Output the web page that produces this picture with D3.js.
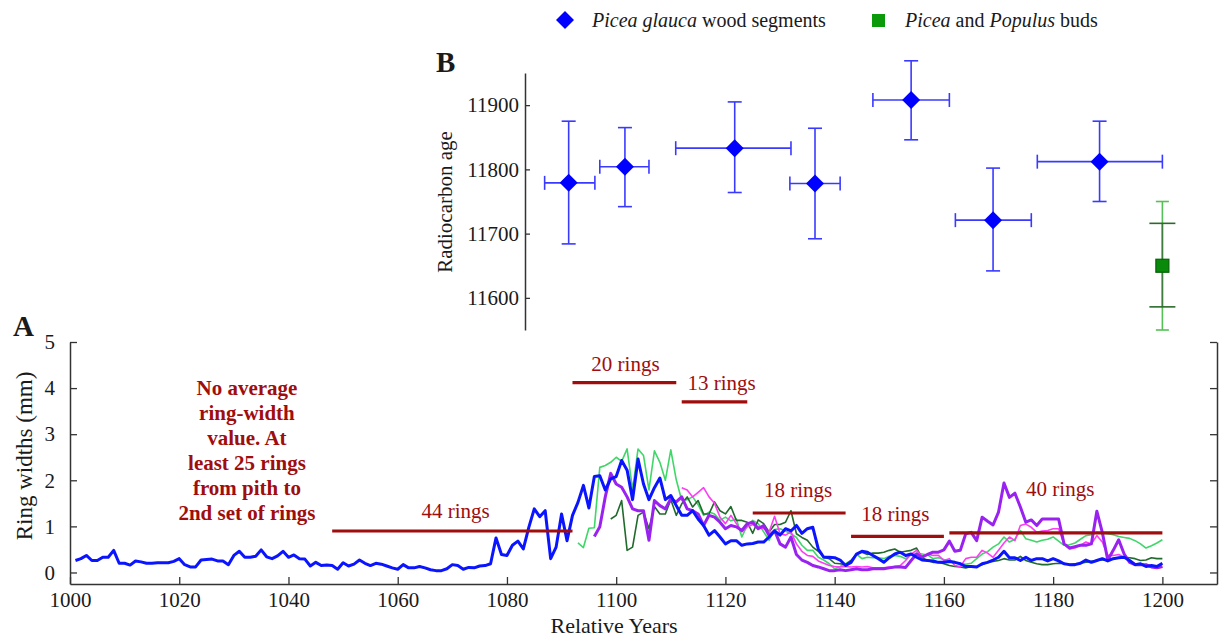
<!DOCTYPE html>
<html><head><meta charset="utf-8">
<script src="https://cdn.jsdelivr.net/npm/d3@7"></script>
<style>
body{margin:0;background:#fff}
svg{display:block}
svg text{font-family:"Liberation Serif","Times New Roman",serif !important}
</style>
</head><body>
<svg id="c" width="1224" height="637"></svg>
<script>
// ---------- Panel A data (ring widths, mm) ----------
const blueStart = 1001;
const blueValues = [0.26,0.3,0.37,0.26,0.26,0.33,0.33,0.48,0.2,0.2,
0.16,0.25,0.23,0.2,0.2,0.21,0.21,0.21,0.24,0.3,
0.17,0.12,0.12,0.27,0.28,0.29,0.25,0.25,0.17,0.37,
0.46,0.33,0.33,0.35,0.49,0.34,0.3,0.36,0.46,0.33,
0.38,0.3,0.29,0.14,0.22,0.15,0.16,0.15,0.07,0.21,
0.14,0.18,0.27,0.2,0.15,0.2,0.18,0.14,0.1,0.07,
0.17,0.1,0.1,0.13,0.1,0.06,0.04,0.04,0.08,0.17,
0.15,0.07,0.11,0.1,0.14,0.15,0.19,0.75,0.39,0.37,
0.59,0.68,0.51,0.98,1.38,1.21,1.34,0.3,0.55,1.27,
0.69,1.24,1.52,1.89,1.4,2.08,2.1,1.79,2.03,2.08,
2.43,2.22,1.58,2.46,1.92,1.58,1.84,2.05,1.58,1.67,
1.45,1.24,1.24,1.34,1.16,1.02,0.81,0.91,0.77,0.62,
0.69,0.69,0.59,0.62,0.63,0.66,0.66,0.77,0.9,0.81,
0.95,0.9,1.02,0.85,0.95,0.98,0.51,0.33,0.33,0.32,
0.27,0.15,0.22,0.4,0.46,0.44,0.37,0.3,0.22,0.32,
0.4,0.44,0.37,0.4,0.33,0.27,0.26,0.25,0.22,0.22,
0.24,0.22,0.19,0.13,0.13,0.12,0.19,0.22,0.27,0.33,
0.46,0.32,0.32,0.26,0.33,0.26,0.3,0.3,0.25,0.3,
0.25,0.19,0.17,0.17,0.2,0.27,0.22,0.26,0.3,0.25,
0.3,0.32,0.33,0.26,0.17,0.19,0.13,0.15,0.13,0.2];

const lightGreenStart = 1093;
const lightGreenValues = [0.64,0.54,0.96,0.97,2.28,2.32,2.39,2.5,2.41,2.68,
1.79,2.68,2.54,1.79,2.64,2.39,2.0,2.66,2.01,1.56,
1.58,1.64,1.47,1.24,1.31,1.27,1.13,1.2,1.12,1.16,
0.77,1.02,1.13,1.06,0.88,0.7,0.93,0.95,0.9,0.84,
0.76,0.59,0.48,0.48,0.33,0.27,0.19,0.08,0.13,0.19,
0.26,0.4,0.3,0.33,0.32,0.32,0.3,0.35,0.37,0.35,
0.3,0.38,0.42,0.4,0.38,0.3,0.32,0.28,0.26,0.22,
0.2,0.18,0.2,0.3,0.4,0.45,0.55,0.62,0.77,0.66,
0.72,0.91,0.73,0.7,0.66,0.7,0.72,0.77,0.68,0.59,
0.6,0.64,0.72,0.8,0.82,0.87,0.85,0.84,0.82,0.78,
0.76,0.74,0.69,0.62,0.53,0.58,0.64,0.71];

const darkGreenStart = 1099;
const darkGreenValues = [1.16,1.24,1.56,0.48,0.55,1.24,1.31,0.95,1.43,1.27,
1.27,1.58,1.24,1.49,1.64,1.42,1.56,1.27,1.27,1.53,
1.34,1.27,1.43,1.13,1.13,1.09,0.85,1.14,1.06,0.88,
1.04,1.04,1.09,1.34,0.84,0.76,0.7,0.55,0.46,0.33,
0.3,0.2,0.19,0.17,0.26,0.39,0.44,0.39,0.42,0.42,
0.44,0.48,0.51,0.44,0.46,0.48,0.53,0.32,0.26,0.22,
0.22,0.19,0.15,0.13,0.12,0.1,0.13,0.13,0.17,0.22,
0.24,0.26,0.3,0.27,0.27,0.35,0.26,0.22,0.19,0.17,
0.17,0.19,0.2,0.19,0.17,0.19,0.2,0.22,0.24,0.26,
0.27,0.27,0.3,0.32,0.33,0.32,0.3,0.26,0.27,0.32,
0.3,0.3];

const magentaStart = 1112;
const magentaValues = [1.84,1.79,1.64,1.74,1.84,1.64,1.5,1.2,1.06,1.24,
1.06,0.88,0.99,1.04,0.99,0.95,0.88,1.22,0.84,0.81,
0.88,0.62,0.46,0.37,0.35,0.25,0.2,0.15,0.13,0.12,
0.13,0.12,0.13,0.12,0.13,0.1,0.1,0.1,0.12,0.13,
0.15,0.26,0.4,0.48,0.35,0.4,0.37,0.37,0.26,0.3,
0.15,0.13,0.3,0.33,0.33,0.48,0.42,0.33,0.48,0.64,
0.77,0.69,1.02,1.05,0.98,0.87,0.9,0.91,0.95,0.95,
0.62,0.51,0.53,0.59,0.66,0.62,0.8,0.66,0.37,0.37,
0.39,0.33,0.26,0.19,0.19,0.15,0.12,0.1,0.12];

const purpleStart = 1096;
const purpleValues = [0.78,0.99,1.64,2.15,1.92,1.85,1.64,1.38,1.34,1.34,
0.7,1.56,1.45,1.38,1.6,1.53,1.64,1.38,1.34,1.27,
1.02,1.24,1.2,1.09,0.95,1.02,0.99,0.91,1.06,1.09,
0.95,1.02,0.8,0.91,0.62,0.55,0.77,0.39,0.27,0.22,
0.15,0.12,0.08,0.04,0.04,0.06,0.04,0.06,0.08,0.06,
0.06,0.08,0.08,0.08,0.1,0.12,0.12,0.11,0.26,0.4,
0.33,0.39,0.44,0.44,0.49,0.68,0.46,0.48,0.84,0.87,
0.69,1.2,1.11,1.03,1.31,1.94,1.63,1.72,1.42,1.09,
1.14,1.02,1.16,1.16,1.16,1.16,0.62,0.53,0.56,0.59,
0.59,0.62,1.33,0.87,0.27,0.48,0.71,0.4,0.22,0.17,
0.17,0.17,0.12,0.1,0.13];

// ring-count bars: start year, end year, value, label, label anchor (year, value)
const ringLabels = ["44 rings","20 rings","13 rings","18 rings","18 rings","40 rings"];
const ringStart  = [1048,1092,1112,1125,1143,1161];
const ringEnd    = [1092,1111,1124,1142,1160,1200];
const ringValue  = [0.90,4.12,3.70,1.29,0.785,0.86];
const ringLabelYear  = [1070.6,1101.7,1119.3,1133.3,1151.1,1181.3];
const ringLabelValue = [1.18,4.37,3.96,1.64,1.12,1.66];

const noteLines = ["No average","ring-width","value. At","least 25 rings","from pith to","2nd set of rings"];
const noteYear = 1032.4, noteTopValue = 3.85;

const xTicks = [1000,1020,1040,1060,1080,1100,1120,1140,1160,1180,1200];
const yTicksA = [0,1,2,3,4,5];

// ---------- Panel B data (radiocarbon ages) ----------
const woodYear     = [1091.3,1101.6,1121.7,1136.4,1154.0,1169.0,1188.5];
const woodYearLow  = [1086.9,1097.0,1110.9,1131.8,1147.0,1162.1,1177.1];
const woodYearHigh = [1096.1,1106.0,1132.0,1141.0,1161.0,1176.0,1200.0];
const woodAge      = [11779,11804,11833,11778,11908,11721,11812];
const woodAgeLow   = [11684,11742,11764,11692,11846,11642,11750];
const woodAgeHigh  = [11875,11865,11905,11864,11969,11802,11875];

const budYear = 1200, budAge = 11650;
const budAgeInnerLow = 11586, budAgeInnerHigh = 11716;
const budAgeOuterLow = 11550, budAgeOuterHigh = 11750;
const yTicksB = [11600,11700,11800,11900];

// ---------- drawing ----------
const svg = d3.select("#c");
const x  = d3.scaleLinear().domain([1000,1210]).range([70,1217]);
const yA = d3.scaleLinear().domain([-0.25,5]).range([584,342]);
const yB = d3.scaleLinear().domain([11550,11950]).range([330,73]);

const axisColor = "#333";
const red = "#a00d0d";
const ink = "#1a1a1a";
const toPts = (start, vals) => vals.map((v,i)=>({year:start+i, v}));
const line = d3.line().x(d=>x(d.year)).y(d=>yA(d.v));

function styleAxis(g, fs){
  g.attr("font-size",fs);
  g.selectAll("path.domain").attr("stroke",axisColor).attr("stroke-width",1.5);
  g.selectAll(".tick line").attr("stroke",axisColor).attr("stroke-width",1.3);
  g.selectAll("text").attr("font-size",fs).attr("fill",ink);
}

// Panel A axes
const gx = svg.append("g").attr("transform",`translate(0,${yA.range()[0]})`)
  .call(d3.axisBottom(x).tickValues(xTicks).tickFormat(d3.format("d")).tickSizeInner(-7).tickSizeOuter(0).tickPadding(8));
styleAxis(gx, 21);
const gyA = svg.append("g").attr("transform",`translate(${x.range()[0]},0)`)
  .call(d3.axisLeft(yA).tickValues(yTicksA).tickFormat(d3.format("d")).tickSizeInner(-7).tickSizeOuter(0).tickPadding(15));
styleAxis(gyA, 21);
const gyA2 = svg.append("g").attr("transform",`translate(${x.range()[1]},0)`)
  .call(d3.axisRight(yA).tickValues(yTicksA).tickFormat("").tickSizeInner(-7).tickSizeOuter(0));
styleAxis(gyA2, 21);

svg.append("text").attr("x",614).attr("y",633).attr("text-anchor","middle")
  .attr("font-size",22).attr("fill",ink).text("Relative Years");
svg.append("text").attr("transform","translate(32,456) rotate(-90)").attr("text-anchor","middle")
  .attr("font-size",23).attr("fill",ink).text("Ring widths (mm)");
svg.append("text").attr("x",13).attr("y",336).attr("font-size",29).attr("font-weight","bold").attr("fill",ink).text("A");

// series
const series = [
  {s:lightGreenStart, v:lightGreenValues, c:"#3ed768", w:1.6},
  {s:darkGreenStart,  v:darkGreenValues,  c:"#1f6a2c", w:1.6},
  {s:magentaStart,    v:magentaValues,    c:"#ff3cf5", w:1.6},
  {s:purpleStart,     v:purpleValues,     c:"#9a22f0", w:3},
  {s:blueStart,       v:blueValues,       c:"#0a14ff", w:3}
];
series.forEach(d=>{
  svg.append("path").datum(toPts(d.s,d.v)).attr("d",line)
    .attr("fill","none").attr("stroke",d.c).attr("stroke-width",d.w).attr("stroke-linejoin","round");
});

// ring bars + labels
ringLabels.forEach((lab,i)=>{
  svg.append("line").attr("x1",x(ringStart[i])).attr("x2",x(ringEnd[i]))
    .attr("y1",yA(ringValue[i])).attr("y2",yA(ringValue[i]))
    .attr("stroke",red).attr("stroke-width",3.2);
  svg.append("text").attr("x",x(ringLabelYear[i])).attr("y",yA(ringLabelValue[i]))
    .attr("text-anchor","middle").attr("font-size",21).attr("fill",red).text(lab);
});
const note = svg.append("text").attr("text-anchor","middle").attr("font-size",21)
  .attr("font-weight","bold").attr("fill",red);
noteLines.forEach((t,i)=>{
  note.append("tspan").attr("x",x(noteYear)).attr("y",yA(noteTopValue)+i*25).text(t);
});

// Panel B axis
const gyB = svg.append("g").attr("transform",`translate(525,0)`)
  .call(d3.axisLeft(yB).tickValues(yTicksB).tickFormat(d3.format("d")).tickSizeInner(-5).tickSizeOuter(0).tickPadding(6));
styleAxis(gyB, 21);
svg.append("text").attr("transform","translate(452,202) rotate(-90)").attr("text-anchor","middle")
  .attr("font-size",21).attr("fill",ink).text("Radiocarbon age");
svg.append("text").attr("x",436).attr("y",72).attr("font-size",29).attr("font-weight","bold").attr("fill",ink).text("B");

const errC = "#3a3aff";
const g = svg.append("g");
woodAge.forEach((a,i)=>{
  const cx = x(woodYear[i]), cy = yB(a);
  const vt = yB(woodAgeHigh[i]), vb = yB(woodAgeLow[i]);
  const hl = x(woodYearLow[i]), hr = x(woodYearHigh[i]);
  const segs = [[cx,vt,cx,vb],[cx-7,vt,cx+7,vt],[cx-7,vb,cx+7,vb],
                [hl,cy,hr,cy],[hl,cy-7,hl,cy+7],[hr,cy-7,hr,cy+7]];
  segs.forEach(s=>g.append("line").attr("x1",s[0]).attr("y1",s[1]).attr("x2",s[2]).attr("y2",s[3])
    .attr("stroke",errC).attr("stroke-width",1.6));
  g.append("path").attr("d",`M${cx},${cy-9}L${cx+9},${cy}L${cx},${cy+9}L${cx-9},${cy}Z`).attr("fill","#0000ff");
});
// bud point
{
  const cx = x(budYear);
  const ot = yB(budAgeOuterHigh), ob = yB(budAgeOuterLow), it = yB(budAgeInnerHigh), ib = yB(budAgeInnerLow);
  const lg = "#55c055", dg = "#2a6a2a";
  [[cx,ot,cx,ob,lg],[cx-6.5,ot,cx+6.5,ot,lg],[cx-6.5,ob,cx+6.5,ob,lg],
   [cx,it,cx,ib,"#3f7d3f"],[cx-13,it,cx+13,it,dg],[cx-13,ib,cx+13,ib,dg]].forEach(s=>
    g.append("line").attr("x1",s[0]).attr("y1",s[1]).attr("x2",s[2]).attr("y2",s[3])
      .attr("stroke",s[4]).attr("stroke-width",1.6));
  const cy = yB(budAge);
  g.append("rect").attr("x",cx-6.5).attr("y",cy-6.5).attr("width",13).attr("height",13)
    .attr("fill","#0a8a0a").attr("stroke","#056005").attr("stroke-width",1.2);
}

// legend
const leg = svg.append("g");
leg.append("path").attr("d","M565,11L574,20L565,29L556,20Z").attr("fill","#0000ff");
const t1 = leg.append("text").attr("x",592).attr("y",27).attr("font-size",20).attr("fill",ink);
t1.append("tspan").attr("font-style","italic").text("Picea glauca");
t1.append("tspan").text(" wood segments");
leg.append("rect").attr("x",872).attr("y",14).attr("width",13).attr("height",13).attr("fill","#0a9a0a");
const t2 = leg.append("text").attr("x",905).attr("y",27).attr("font-size",20).attr("fill",ink);
t2.append("tspan").attr("font-style","italic").text("Picea");
t2.append("tspan").text(" and ");
t2.append("tspan").attr("font-style","italic").text("Populus");
t2.append("tspan").text(" buds");
</script>
</body></html>
